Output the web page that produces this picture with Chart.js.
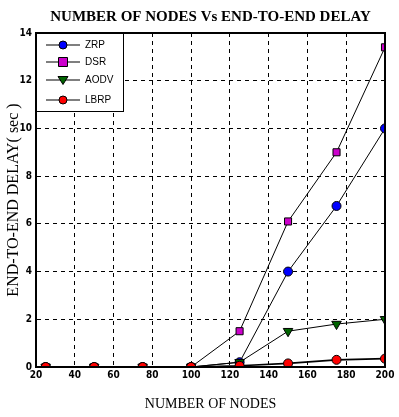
<!DOCTYPE html>
<html>
<head>
<meta charset="utf-8">
<script src="https://cdn.jsdelivr.net/npm/chart.js@4/dist/chart.umd.min.js"></script>
<style>
  html, body { margin: 0; padding: 0; background: #fff; }
  #wrap { width: 399px; height: 417px; }
</style>
</head>
<body>
<div id="wrap"><canvas id="chart" width="399" height="417"></canvas></div>
<script>
// values
const nodes = [25, 50, 75, 100, 125, 150, 175, 200];
const zrp  = [0, 0, 0, 0, 0.2, 4.0, 6.75, 10.0];
const dsr  = [0, 0, 0, 0, 1.5, 6.1, 9.0, 13.4];
const aodv = [0, 0, 0, 0, 0.2, 1.5, 1.8, 2.0];
const lbrp = [0, 0, 0, 0, 0.05, 0.15, 0.3, 0.35];

const seriesNames = ["ZRP", "DSR", "AODV", "LBRP"];
const seriesColors = ["#0000ff", "#cc00cc", "#006400", "#ff0000"];

function pts(ys) {
    return nodes.map(function (x, i) { return { x: x, y: ys[i] }; });
}

function makeSet(i, ys, style, radius, rot) {
    return {
        label: seriesNames[i],
        data: pts(ys),
        borderColor: "#000",
        borderWidth: i === 3 ? 1.6 : 1,
        pointStyle: style,
        pointRadius: radius,
        pointRotation: rot || 0,
        pointBackgroundColor: seriesColors[i],
        pointBorderColor: "#000",
        pointBorderWidth: 1,
        order: 3 - i,
        tension: 0
    };
}

// frame round the plot + legend box in the top left corner
const framePlugin = {
    id: "frame",
    afterDraw: function (chart) {
        const ctx = chart.ctx;
        const a = chart.chartArea;
        ctx.save();
        ctx.strokeStyle = "#000";
        ctx.lineWidth = 2;
        ctx.strokeRect(a.left, a.top, a.right - a.left, a.bottom - a.top);

        // legend
        const bx = a.left, by = a.top, bw = 87, bh = 78;
        ctx.fillStyle = "#fff";
        ctx.fillRect(bx, by, bw, bh);
        ctx.lineWidth = 1;
        ctx.strokeRect(bx + 0.5, by + 0.5, bw, bh);
        const rows = [12, 29, 47, 67];
        const styles = ["circle", "rect", "triangle", "circle"];
        ctx.font = "10px 'Liberation Sans', Arial, sans-serif";
        ctx.textBaseline = "middle";
        rows.forEach(function (dy, i) {
            const y = by + dy;
            ctx.strokeStyle = "#000";
            ctx.lineWidth = 1.2;
            ctx.beginPath();
            ctx.moveTo(bx + 10, y);
            ctx.lineTo(bx + 44, y);
            ctx.stroke();
            const cx = bx + 27;
            ctx.fillStyle = seriesColors[i];
            ctx.lineWidth = 1;
            ctx.beginPath();
            if (styles[i] === "circle") {
                ctx.arc(cx, y, 4, 0, Math.PI * 2);
            } else if (styles[i] === "rect") {
                ctx.rect(cx - 4.5, y - 4.5, 9, 9);
            } else {
                ctx.moveTo(cx - 5, y - 3.5);
                ctx.lineTo(cx + 5, y - 3.5);
                ctx.lineTo(cx, y + 4.5);
                ctx.closePath();
            }
            ctx.fill();
            ctx.stroke();
            ctx.fillStyle = "#000";
            ctx.textAlign = "left";
            ctx.fillText(seriesNames[i], bx + 49, y);
        });
        ctx.restore();
    }
};

const tickFont = { family: "'Liberation Sans Narrow', 'DejaVu Sans Condensed', sans-serif", size: 10, weight: "bold" };
const serif = "'Liberation Serif', 'DejaVu Serif', serif";

new Chart(document.getElementById("chart"), {
    type: "line",
    data: {
        datasets: [
            makeSet(0, zrp, "circle", 4.5),
            makeSet(1, dsr, "rect", 5),
            makeSet(2, aodv, "triangle", 5.5, 180),
            makeSet(3, lbrp, "circle", 4.5)
        ]
    },
    options: {
        responsive: false,
        animation: false,
        layout: { padding: { right: 14, left: 0, bottom: 0 } },
        plugins: {
            legend: { display: false },
            tooltip: { enabled: false },
            title: {
                display: true,
                fullSize: false,
                text: "NUMBER OF NODES Vs END-TO-END DELAY",
                color: "#000",
                font: { family: serif, size: 15, weight: "bold" },
                padding: { top: 8, bottom: 7 }
            }
        },
        scales: {
            x: {
                type: "linear",
                min: 20,
                max: 200,
                afterFit: function (s) { s.height = 50; },
                ticks: { stepSize: 20, color: "#000", font: tickFont, padding: 2, maxRotation: 0 },
                grid: { color: "#000", lineWidth: 1, drawTicks: false },
                border: { display: true, color: "#000", width: 2, dash: [4, 4] },
                title: {
                    display: true,
                    text: "NUMBER OF NODES",
                    color: "#000",
                    font: { family: serif, size: 14 },
                    padding: { top: 6 }
                }
            },
            y: {
                min: 0,
                max: 14,
                afterFit: function (s) { s.width = 36; },
                ticks: { stepSize: 2, color: "#000", font: tickFont, padding: 4 },
                grid: { color: "#000", lineWidth: 1, drawTicks: false },
                border: { display: true, color: "#000", width: 2, dash: [4, 4] },
                title: {
                    display: true,
                    text: "END-TO-END DELAY( sec )",
                    color: "#000",
                    font: { family: serif, size: 16 },
                    padding: { bottom: 0 }
                }
            }
        }
    },
    plugins: [framePlugin]
});
</script>
</body>
</html>
